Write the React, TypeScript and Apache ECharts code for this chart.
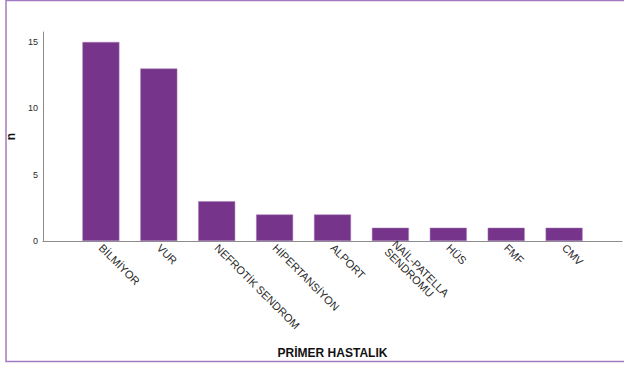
import React, { useEffect, useRef } from "react";
import * as echarts from "echarts";

const categories = ["", "BİLMİYOR", "VUR", "NEFROTİK SENDROM", "HİPERTANSİYON", "ALPORT", "NAİL-PATELLA\nSENDROMU", "HÜS", "FMF", "CMV", ""];
const values = [null, 15, 13, 3, 2, 2, 1, 1, 1, 1, null];
const yTicks = [0, 5, 10, 15];

export default function App() {
  const ref = useRef<HTMLDivElement>(null);
  useEffect(() => {
    const chart = echarts.init(ref.current!, null, { renderer: "svg" });
    chart.setOption({
      animation: false,
      backgroundColor: "#ffffff",
      grid: { left: 43, right: 2, top: 32, bottom: 124, containLabel: false, outerBoundsMode: "none" },
      xAxis: {
        type: "category",
        data: categories,
        boundaryGap: false,
        name: "PRİMER HASTALIK",
        nameLocation: "middle",
        nameGap: 106,
        nameTextStyle: { fontFamily: "Liberation Sans", fontWeight: "bold", fontSize: 12, color: "#111" },
        axisLine: { lineStyle: { color: "#8c8c8c", width: 1 } },
        axisTick: { show: false },
        axisLabel: {
          interval: 0,
          rotate: -45,
          margin: 5,
          fontFamily: "Liberation Sans",
          fontSize: 11,
          lineHeight: 11,
          color: "#2a2a2a",
        },
        splitLine: { show: false },
      },
      yAxis: {
        type: "value",
        min: 0,
        max: 15.75,
        interval: 5,
        name: "n",
        nameLocation: "middle",
        nameRotate: 90,
        nameGap: 25,
        nameTextStyle: { fontFamily: "Liberation Sans", fontWeight: "bold", fontSize: 12, color: "#111" },
        axisLine: { show: true, lineStyle: { color: "#8c8c8c", width: 1 } },
        axisTick: { show: false },
        splitLine: { show: false },
        axisLabel: {
          showMaxLabel: false,
          margin: 5,
          fontFamily: "Liberation Sans",
          fontSize: 9,
          color: "#2a2a2a",
          formatter: (v: number) => (yTicks.includes(v) ? String(v) : ""),
        },
      },
      series: [
        {
          type: "bar",
          data: values,
          barWidth: 37,
          itemStyle: { color: "#76358a", borderColor: "#a87fb8", borderWidth: 0.5 },
        },
      ],
      graphic: [
        {
          type: "rect",
          shape: { x: 6, y: 0.5, width: 640, height: 361 },
          style: { fill: "none", stroke: "#a27bc4", lineWidth: 1.5 },
          silent: true,
        },
      ],
    });
    return () => chart.dispose();
  }, []);
  return <div ref={ref} style={{ position: "absolute", left: 0, top: 0, width: 624, height: 365 }} />;
}
